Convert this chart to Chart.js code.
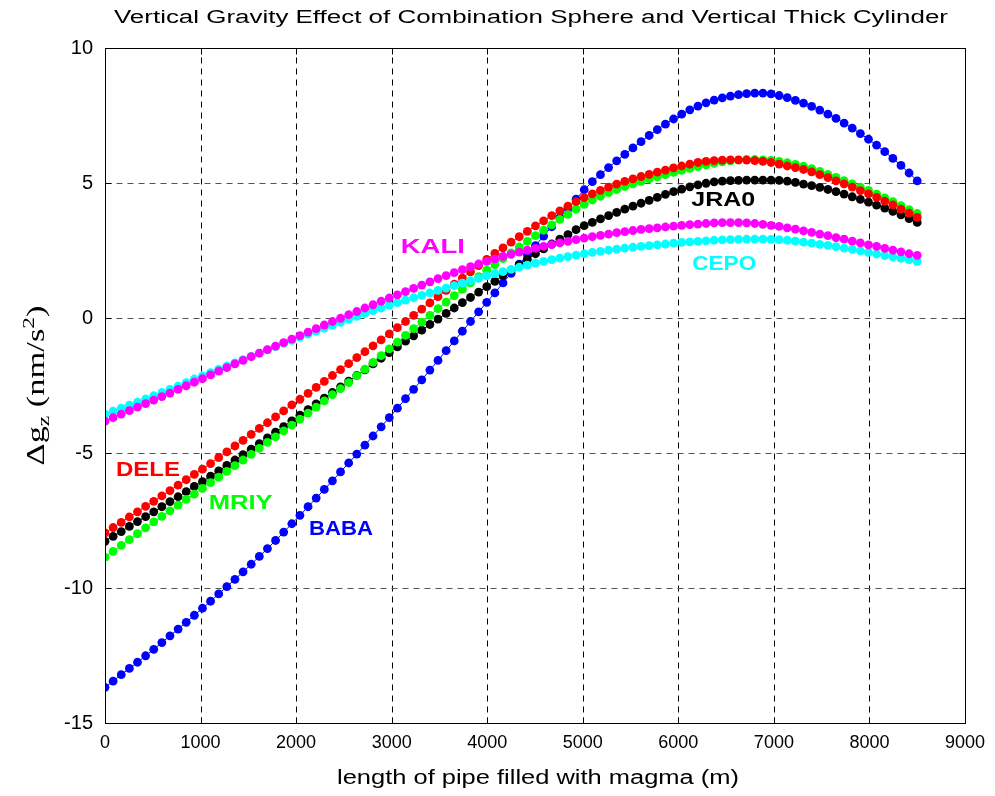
<!DOCTYPE html>
<html>
<head>
<meta charset="utf-8">
<title>Vertical Gravity Effect</title>
<script src="https://cdn.jsdelivr.net/npm/chart.js@4.4.0/dist/chart.umd.min.js"></script>
<style>
  html, body { margin: 0; padding: 0; background: #fff; }
  #wrap { width: 995px; height: 796px; }
</style>
</head>
<body>
<div id="wrap"><canvas id="mainChart" width="995" height="796"></canvas></div>
<script>
// pipe length (m), one point every 85 m
const comprimento = [
  0, 85, 170, 255, 340, 425, 510, 595, 680, 765,
  850, 935, 1020, 1105, 1190, 1275, 1360, 1445, 1530, 1615,
  1700, 1785, 1870, 1955, 2040, 2125, 2210, 2295, 2380, 2465,
  2550, 2635, 2720, 2805, 2890, 2975, 3060, 3145, 3230, 3315,
  3400, 3485, 3570, 3655, 3740, 3825, 3910, 3995, 4080, 4165,
  4250, 4335, 4420, 4505, 4590, 4675, 4760, 4845, 4930, 5015,
  5100, 5185, 5270, 5355, 5440, 5525, 5610, 5695, 5780, 5865,
  5950, 6035, 6120, 6205, 6290, 6375, 6460, 6545, 6630, 6715,
  6800, 6885, 6970, 7055, 7140, 7225, 7310, 7395, 7480, 7565,
  7650, 7735, 7820, 7905, 7990, 8075, 8160, 8245, 8330, 8415,
  8500
];

// delta g_z (nm/s^2) per station
const baba = [
  -13.68, -13.45, -13.21, -12.98, -12.75, -12.51, -12.27, -12.02, -11.77, -11.52,
  -11.27, -11.01, -10.75, -10.49, -10.22, -9.95, -9.68, -9.40, -9.12, -8.83,
  -8.54, -8.24, -7.93, -7.62, -7.31, -6.99, -6.67, -6.35, -6.03, -5.70,
  -5.37, -5.04, -4.71, -4.37, -4.03, -3.69, -3.34, -2.99, -2.64, -2.29,
  -1.93, -1.57, -1.21, -0.85, -0.49, -0.13, 0.23, 0.58, 0.93, 1.30,
  1.65, 1.99, 2.34, 2.68, 3.03, 3.38, 3.72, 4.06, 4.40, 4.75,
  5.05, 5.31, 5.57, 5.82, 6.06, 6.30, 6.53, 6.76, 6.98, 7.18,
  7.37, 7.55, 7.71, 7.85, 7.97, 8.07, 8.15, 8.22, 8.27, 8.31,
  8.33, 8.33, 8.30, 8.24, 8.16, 8.06, 7.96, 7.84, 7.70, 7.55,
  7.39, 7.22, 7.03, 6.83, 6.62, 6.40, 6.16, 5.91, 5.65, 5.37,
  5.08
];

const dele = [
  -7.96, -7.76, -7.57, -7.37, -7.18, -6.98, -6.79, -6.59, -6.39, -6.19,
  -5.99, -5.79, -5.60, -5.39, -5.17, -4.96, -4.74, -4.53, -4.31, -4.09,
  -3.88, -3.66, -3.44, -3.22, -3.01, -2.79, -2.57, -2.35, -2.13, -1.91,
  -1.69, -1.47, -1.25, -1.03, -0.81, -0.59, -0.36, -0.13, 0.10, 0.33,
  0.56, 0.79, 1.02, 1.25, 1.48, 1.71, 1.94, 2.17, 2.39, 2.60,
  2.81, 3.01, 3.21, 3.41, 3.60, 3.79, 3.97, 4.14, 4.31, 4.46,
  4.60, 4.73, 4.85, 4.96, 5.06, 5.15, 5.24, 5.32, 5.40, 5.48,
  5.56, 5.63, 5.70, 5.76, 5.80, 5.83, 5.85, 5.86, 5.86, 5.85,
  5.83, 5.80, 5.76, 5.70, 5.63, 5.57, 5.50, 5.41, 5.31, 5.20,
  5.08, 4.97, 4.85, 4.72, 4.60, 4.47, 4.33, 4.19, 4.03, 3.88,
  3.73
];

const mriy = [
  -8.86, -8.64, -8.42, -8.21, -7.99, -7.77, -7.55, -7.35, -7.14, -6.93,
  -6.72, -6.52, -6.31, -6.10, -5.89, -5.68, -5.47, -5.26, -5.05, -4.83,
  -4.61, -4.40, -4.18, -3.97, -3.75, -3.52, -3.30, -3.07, -2.84, -2.62,
  -2.39, -2.14, -1.89, -1.64, -1.39, -1.14, -0.89, -0.64, -0.39, -0.15,
  0.10, 0.35, 0.59, 0.83, 1.06, 1.30, 1.53, 1.77, 1.98, 2.20,
  2.41, 2.63, 2.84, 3.05, 3.25, 3.45, 3.65, 3.84, 4.03, 4.21,
  4.37, 4.51, 4.64, 4.76, 4.87, 4.97, 5.06, 5.15, 5.23, 5.31,
  5.39, 5.47, 5.54, 5.61, 5.67, 5.73, 5.78, 5.82, 5.85, 5.87,
  5.87, 5.86, 5.84, 5.80, 5.75, 5.69, 5.62, 5.53, 5.43, 5.32,
  5.21, 5.09, 4.97, 4.85, 4.73, 4.59, 4.45, 4.31, 4.16, 4.01,
  3.87
];

const jra0 = [
  -8.27, -8.09, -7.91, -7.72, -7.54, -7.36, -7.18, -6.99, -6.80, -6.62,
  -6.43, -6.24, -6.06, -5.86, -5.66, -5.46, -5.26, -5.06, -4.86, -4.65,
  -4.44, -4.23, -4.02, -3.81, -3.60, -3.39, -3.18, -2.97, -2.76, -2.55,
  -2.34, -2.13, -1.92, -1.70, -1.49, -1.28, -1.07, -0.86, -0.66, -0.45,
  -0.24, -0.04, 0.17, 0.37, 0.57, 0.76, 0.96, 1.16, 1.36, 1.57,
  1.77, 1.98, 2.18, 2.38, 2.56, 2.74, 2.92, 3.09, 3.27, 3.42,
  3.54, 3.67, 3.79, 3.91, 4.03, 4.14, 4.25, 4.36, 4.47, 4.58,
  4.68, 4.77, 4.86, 4.93, 4.99, 5.04, 5.07, 5.09, 5.10, 5.11,
  5.11, 5.11, 5.11, 5.10, 5.07, 5.02, 4.96, 4.90, 4.84, 4.76,
  4.68, 4.59, 4.49, 4.39, 4.29, 4.18, 4.07, 3.95, 3.82, 3.68,
  3.54
];

const cepo = [
  -3.56, -3.45, -3.34, -3.23, -3.12, -3.00, -2.88, -2.76, -2.64, -2.52,
  -2.39, -2.26, -2.14, -2.02, -1.90, -1.78, -1.66, -1.54, -1.42, -1.30,
  -1.18, -1.06, -0.94, -0.83, -0.71, -0.60, -0.49, -0.38, -0.27, -0.16,
  -0.05, 0.06, 0.17, 0.27, 0.37, 0.47, 0.57, 0.66, 0.75, 0.84,
  0.93, 1.02, 1.11, 1.20, 1.29, 1.38, 1.47, 1.56, 1.64, 1.72,
  1.80, 1.88, 1.96, 2.03, 2.10, 2.16, 2.22, 2.27, 2.33, 2.38,
  2.43, 2.47, 2.51, 2.55, 2.59, 2.62, 2.65, 2.68, 2.71, 2.74,
  2.77, 2.80, 2.82, 2.84, 2.86, 2.88, 2.89, 2.90, 2.91, 2.92,
  2.92, 2.92, 2.91, 2.90, 2.88, 2.85, 2.81, 2.77, 2.73, 2.69,
  2.64, 2.59, 2.54, 2.49, 2.43, 2.37, 2.31, 2.26, 2.21, 2.16,
  2.10
];

const kali = [
  -3.82, -3.69, -3.56, -3.43, -3.30, -3.17, -3.04, -2.91, -2.78, -2.64,
  -2.51, -2.38, -2.25, -2.11, -1.97, -1.84, -1.70, -1.57, -1.43, -1.30,
  -1.17, -1.04, -0.91, -0.78, -0.65, -0.52, -0.39, -0.26, -0.13, -0.01,
  0.12, 0.24, 0.37, 0.49, 0.62, 0.74, 0.86, 0.98, 1.10, 1.22,
  1.34, 1.46, 1.57, 1.68, 1.79, 1.90, 2.00, 2.10, 2.19, 2.28,
  2.36, 2.44, 2.51, 2.58, 2.65, 2.72, 2.78, 2.84, 2.90, 2.96,
  3.01, 3.06, 3.11, 3.16, 3.20, 3.24, 3.28, 3.31, 3.34, 3.37,
  3.40, 3.43, 3.46, 3.48, 3.50, 3.52, 3.53, 3.53, 3.53, 3.52,
  3.50, 3.47, 3.43, 3.39, 3.34, 3.29, 3.23, 3.17, 3.11, 3.05,
  2.98, 2.92, 2.85, 2.78, 2.71, 2.65, 2.58, 2.51, 2.45, 2.38,
  2.32
];

// station names written next to the curves (data coordinates)
const nomes = ["KALI", "JRA0", "CEPO", "DELE", "MRIY", "BABA"];
const nomesX = [3430, 6470, 6480, 450, 1420, 2470];
const nomesY = [2.6, 4.37, 1.97, -5.66, -6.88, -7.84];
const nomesCor = ["#ff00ff", "#000000", "#00ffff", "#ff0000", "#00ff00", "#0000ff"];

const xTicks = [0, 1000, 2000, 3000, 4000, 5000, 6000, 7000, 8000, 9000];
const yTicks = [-15, -10, -5, 0, 5, 10];

const FONT = "'Liberation Sans', Arial, sans-serif";
const SERIF = "'Liberation Serif', 'Times New Roman', serif";

function serie(valores, cor) {
  return {
    data: comprimento.map((x, i) => ({ x, y: valores[i] })),
    borderColor: cor,
    backgroundColor: cor,
    pointBackgroundColor: cor,
    pointBorderWidth: 0,
    pointRadius: 4.4,
    borderWidth: 1,
    tension: 0
  };
}

// text stretched horizontally to a target width (the figure text is wide)
function textoLargo(ctx, txt, cx, cy, font, largura) {
  ctx.save();
  ctx.font = font;
  const w = ctx.measureText(txt).width;
  ctx.translate(cx, cy);
  ctx.scale(largura / w, 1);
  ctx.textAlign = "center";
  ctx.textBaseline = "middle";
  ctx.fillText(txt, 0, 0);
  ctx.restore();
}

const eixosMatlab = {
  id: "eixosMatlab",
  beforeDatasetsDraw(chart) {
    const { ctx, chartArea: a, scales: { x, y } } = chart;
    const L = Math.round(a.left) + 0.5, R = Math.round(a.right) + 0.5;
    const T = Math.round(a.top) + 0.5, B = Math.round(a.bottom) + 0.5;
    ctx.save();
    ctx.lineWidth = 1;
    ctx.setLineDash([6, 5]);
    ctx.strokeStyle = "#000";
    xTicks.forEach(v => {
      if (v <= x.min || v >= x.max) return;
      const px = Math.round(x.getPixelForValue(v)) + 0.5;
      ctx.beginPath(); ctx.moveTo(px, B); ctx.lineTo(px, T); ctx.stroke();
    });
    ctx.strokeStyle = "#555";
    yTicks.forEach(v => {
      if (v <= y.min || v >= y.max) return;
      const py = Math.round(y.getPixelForValue(v)) + 0.5;
      ctx.beginPath(); ctx.moveTo(L, py); ctx.lineTo(R, py); ctx.stroke();
    });
    ctx.restore();
  },
  afterDatasetsDraw(chart) {
    const { ctx, chartArea: a, scales: { x, y } } = chart;
    const L = Math.round(a.left) + 0.5, R = Math.round(a.right) + 0.5;
    const T = Math.round(a.top) + 0.5, B = Math.round(a.bottom) + 0.5;
    ctx.save();
    ctx.strokeStyle = "#000";
    ctx.lineWidth = 1;
    ctx.strokeRect(L, T, R - L, B - T);
    const tl = 6;
    ctx.beginPath();
    xTicks.forEach(v => {
      const px = Math.round(x.getPixelForValue(v)) + 0.5;
      ctx.moveTo(px, B); ctx.lineTo(px, B - tl);
      ctx.moveTo(px, T); ctx.lineTo(px, T + tl);
    });
    yTicks.forEach(v => {
      const py = Math.round(y.getPixelForValue(v)) + 0.5;
      ctx.moveTo(L, py); ctx.lineTo(L + tl, py);
      ctx.moveTo(R, py); ctx.lineTo(R - tl, py);
    });
    ctx.stroke();

    // station names
    nomes.forEach((n, i) => {
      ctx.fillStyle = nomesCor[i];
      textoLargo(ctx, n, x.getPixelForValue(nomesX[i]), y.getPixelForValue(nomesY[i]),
        "bold 20px " + FONT, 56 + n.length * 2);
    });
    ctx.restore();
  },
  afterDraw(chart) {
    const { ctx, chartArea: a } = chart;
    ctx.save();
    ctx.fillStyle = "#000";
    textoLargo(ctx, "Vertical Gravity Effect of Combination Sphere and Vertical Thick Cylinder",
      531, 18, "18px " + FONT, 834);
    textoLargo(ctx, "length of pipe filled with magma (m)",
      538, 778, "20px " + FONT, 402);

    // y label: Δg_z (nm/s^2), rotated
    const big = "25px " + SERIF, small = "17px " + SERIF;
    const partes = [
      { t: "\u0394g", f: big, dy: 0 },
      { t: "z", f: small, dy: 5 },
      { t: " (nm/s", f: big, dy: 0 },
      { t: "2", f: small, dy: -10 },
      { t: ")", f: big, dy: 0 }
    ];
    let total = 0;
    partes.forEach(p => { ctx.font = p.f; p.w = ctx.measureText(p.t).width; total += p.w; });
    const alvo = 160;
    const cy = (a.top + a.bottom) / 2;
    ctx.translate(44, cy);
    ctx.rotate(-Math.PI / 2);
    ctx.scale(alvo / total, 1);
    ctx.textBaseline = "alphabetic";
    ctx.textAlign = "left";
    let cx = -total / 2;
    partes.forEach(p => {
      ctx.font = p.f;
      ctx.fillText(p.t, cx, p.dy);
      cx += p.w;
    });
    ctx.restore();
  }
};

const ctx = document.getElementById("mainChart").getContext("2d");

const mainChart = new Chart(ctx, {
  type: "line",
  data: {
    // first dataset is drawn on top
    datasets: [
      serie(kali, "#ff00ff"),
      serie(cepo, "#00ffff"),
      serie(dele, "#ff0000"),
      serie(mriy, "#00ff00"),
      serie(jra0, "#000000"),
      serie(baba, "#0000ff")
    ]
  },
  options: {
    responsive: false,
    animation: false,
    events: [],
    layout: { padding: { top: 48, right: 30, left: 0, bottom: 0 } },
    plugins: {
      legend: { display: false },
      tooltip: { enabled: false },
      title: { display: false }
    },
    scales: {
      x: {
        type: "linear",
        min: 0,
        max: 9000,
        afterBuildTicks: s => { s.ticks = xTicks.map(v => ({ value: v })); },
        afterFit: s => { s.height = 73; },
        grid: { display: false, drawTicks: false },
        border: { display: false },
        ticks: {
          autoSkip: false,
          maxRotation: 0,
          padding: 9,
          color: "#000",
          font: { family: FONT, size: 18 },
          callback: v => String(v)
        }
      },
      y: {
        min: -15,
        max: 10,
        afterBuildTicks: s => { s.ticks = yTicks.map(v => ({ value: v })); },
        afterFit: s => { s.width = 105; },
        grid: { display: false, drawTicks: false },
        border: { display: false },
        ticks: {
          padding: 12,
          color: "#000",
          font: { family: FONT, size: 20 },
          callback: v => String(v)
        }
      }
    }
  },
  plugins: [eixosMatlab]
});
</script>
</body>
</html>
